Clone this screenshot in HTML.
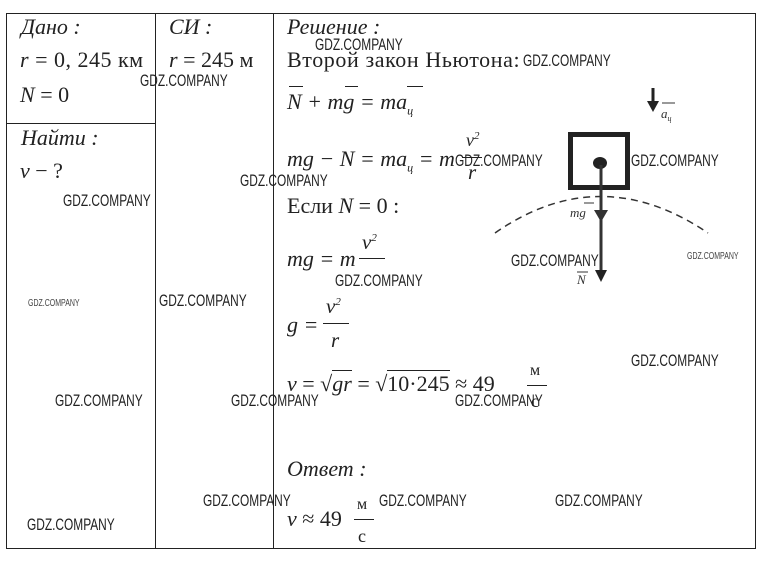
<!DOCTYPE html>
<html><head><meta charset="utf-8"><style>
html,body{margin:0;padding:0;background:#fff;}
#c{position:relative;width:767px;height:561px;overflow:hidden;font-family:"Liberation Serif","DejaVu Serif",serif;color:#222;}
.t{position:absolute;white-space:nowrap;font-size:22px;line-height:1;}
.i{font-style:italic;}
.w{position:absolute;white-space:nowrap;font-family:"Liberation Sans",sans-serif;font-size:17px;line-height:1;color:#222;transform:scaleX(0.7);transform-origin:0 0;}
.ws{position:absolute;white-space:nowrap;font-family:"Liberation Sans",sans-serif;font-size:10px;line-height:1;color:#444;transform:scaleX(0.7);transform-origin:0 0;}
.l{position:absolute;background:#222;}
.frac{position:absolute;text-align:center;font-size:21px;line-height:1;font-style:italic;}
</style></head><body><div id="c">
<div class="l" style="left:6px;top:13px;width:750px;height:1px"></div>
<div class="l" style="left:6px;top:548px;width:750px;height:1px"></div>
<div class="l" style="left:6px;top:13px;width:1px;height:536px"></div>
<div class="l" style="left:755px;top:13px;width:1px;height:536px"></div>
<div class="l" style="left:155px;top:13px;width:1px;height:536px"></div>
<div class="l" style="left:273px;top:13px;width:1px;height:536px"></div>
<div class="l" style="left:6px;top:123px;width:150px;height:1px"></div>

<div class="t i" style="left:21px;top:16px">Дано :</div>
<div class="t" style="left:20px;top:49px;letter-spacing:0.5px"><i>r</i> = 0, 245 км</div>
<div class="t" style="left:20px;top:84px"><i>N</i> = 0</div>
<div class="t i" style="left:21px;top:127px">Найти :</div>
<div class="t" style="left:20px;top:160px"><i>v</i> − ?</div>
<div class="t i" style="left:169px;top:16px">СИ :</div>
<div class="t" style="left:169px;top:49px"><i>r</i> = 245 м</div>

<div class="t i" style="left:287px;top:16px">Решение :</div>
<div class="t" style="left:287px;top:49px;letter-spacing:0.6px">Второй закон Ньютона:</div>
<div class="t i" style="left:287px;top:91px">N + mg = ma<sub style="font-size:12px">ц</sub></div>
<div style="position:absolute;left:289px;top:86px;width:14px;height:1px;background:#222"></div>
<div style="position:absolute;left:345px;top:86px;width:13px;height:1px;background:#222"></div>
<div style="position:absolute;left:407px;top:86px;width:16px;height:1px;background:#222"></div>
<div class="t i" style="left:287px;top:148px">mg − N = ma<sub style="font-size:12px">ц</sub> = m</div>
<div class="frac" style="left:466px;top:131px;font-size:18px">v<sup style="font-size:11px">2</sup></div>
<div class="l" style="left:462px;top:157px;width:20px;height:1px"></div>
<div class="frac" style="left:468px;top:162px">r</div>
<div class="t" style="left:287px;top:195px">Если <i>N</i> = 0 :</div>
<div class="t i" style="left:287px;top:248px">mg = m</div>
<div class="frac" style="left:362px;top:232px">v<sup style="font-size:11px">2</sup></div>
<div class="l" style="left:359px;top:258px;width:26px;height:1px"></div>
<div class="t i" style="left:287px;top:314px">g =</div>
<div class="frac" style="left:326px;top:296px">v<sup style="font-size:11px">2</sup></div>
<div class="l" style="left:323px;top:323px;width:26px;height:1px"></div>
<div class="frac" style="left:331px;top:330px">r</div>
<div class="t" style="left:287px;top:373px"><i>v</i> = √<span style="border-top:1px solid #222"><i>gr</i></span> = √<span style="border-top:1px solid #222">10·245</span> ≈ 49</div>
<div class="t" style="left:530px;top:363px;font-size:16px">м</div>
<div class="l" style="left:527px;top:385px;width:20px;height:1px"></div>
<div class="t" style="left:531px;top:392px;font-size:18px">с</div>
<div class="t i" style="left:287px;top:458px">Ответ :</div>
<div class="t" style="left:287px;top:508px"><i>v</i> ≈ 49</div>
<div class="t" style="left:357px;top:497px;font-size:16px">м</div>
<div class="l" style="left:354px;top:519px;width:20px;height:1px"></div>
<div class="t" style="left:358px;top:527px;font-size:18px">с</div>

<svg style="position:absolute;left:0;top:0" width="767" height="561">
<path d="M495,233 Q600,160 708,233" fill="none" stroke="#333" stroke-width="1.5" stroke-dasharray="7,5"/>
<rect x="570.5" y="134.5" width="57" height="53" fill="none" stroke="#222" stroke-width="5"/>
<ellipse cx="600" cy="163" rx="7" ry="6" fill="#222"/>
<line x1="601" y1="165" x2="601" y2="272" stroke="#333" stroke-width="3"/>
<polygon points="595,270 607,270 601,282" fill="#222"/>
<polygon points="594,210 608,210 601,222" fill="#333"/>
<line x1="653" y1="88" x2="653" y2="104" stroke="#222" stroke-width="3"/>
<polygon points="647,101 659,101 653,112" fill="#222"/>
<text x="570" y="217" font-family="Liberation Serif" font-style="italic" font-size="13" fill="#333">mg</text>
<line x1="584" y1="203" x2="594" y2="203" stroke="#333"/>
<text x="577" y="284" font-family="Liberation Serif" font-style="italic" font-size="13" fill="#333">N</text>
<line x1="577" y1="272" x2="588" y2="272" stroke="#333"/>
<text x="661" y="118" font-family="Liberation Serif" font-style="italic" font-size="13" fill="#333">a<tspan font-size="8" dy="3">ц</tspan></text>
<line x1="662" y1="103" x2="675" y2="103" stroke="#333"/>
</svg>

<div class="w" style="left:315px;top:36px">GDZ.COMPANY</div>
<div class="w" style="left:523px;top:52px">GDZ.COMPANY</div>
<div class="w" style="left:140px;top:72px">GDZ.COMPANY</div>
<div class="w" style="left:455px;top:152px">GDZ.COMPANY</div>
<div class="w" style="left:631px;top:152px">GDZ.COMPANY</div>
<div class="w" style="left:240px;top:172px">GDZ.COMPANY</div>
<div class="w" style="left:63px;top:192px">GDZ.COMPANY</div>
<div class="w" style="left:511px;top:252px">GDZ.COMPANY</div>
<div class="w" style="left:335px;top:272px">GDZ.COMPANY</div>
<div class="w" style="left:159px;top:292px">GDZ.COMPANY</div>
<div class="w" style="left:631px;top:352px">GDZ.COMPANY</div>
<div class="w" style="left:55px;top:392px">GDZ.COMPANY</div>
<div class="w" style="left:231px;top:392px">GDZ.COMPANY</div>
<div class="w" style="left:455px;top:392px">GDZ.COMPANY</div>
<div class="w" style="left:203px;top:492px">GDZ.COMPANY</div>
<div class="w" style="left:379px;top:492px">GDZ.COMPANY</div>
<div class="w" style="left:555px;top:492px">GDZ.COMPANY</div>
<div class="w" style="left:27px;top:516px">GDZ.COMPANY</div>
<div class="ws" style="left:28px;top:299px">GDZ.COMPANY</div>
<div class="ws" style="left:687px;top:252px">GDZ.COMPANY</div>
</div></body></html>
